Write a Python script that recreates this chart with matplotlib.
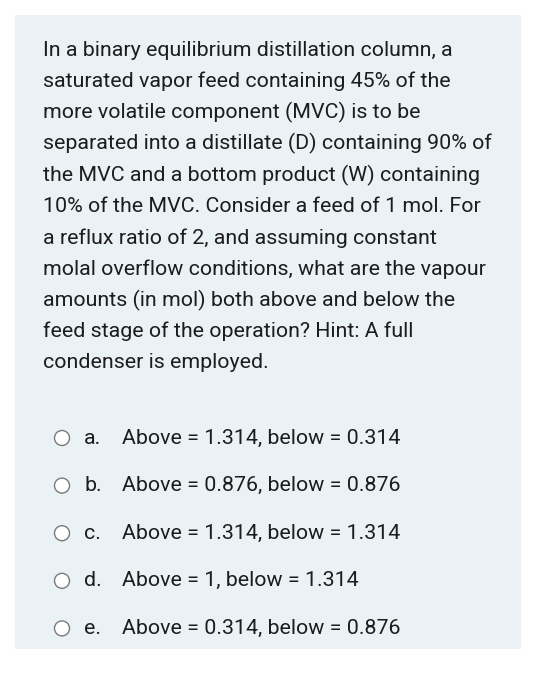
import matplotlib.pyplot as plt
import matplotlib.patches as patches

question_lines = [
    "In a binary equilibrium distillation column, a",
    "saturated vapor feed containing 45% of the",
    "more volatile component (MVC) is to be",
    "separated into a distillate (D) containing 90% of",
    "the MVC and a bottom product (W) containing",
    "10% of the MVC. Consider a feed of 1 mol. For",
    "a reflux ratio of 2, and assuming constant",
    "molal overflow conditions, what are the vapour",
    "amounts (in mol) both above and below the",
    "feed stage of the operation? Hint: A full",
    "condenser is employed.",
]
option_letters = ["a.", "b.", "c.", "d.", "e."]
option_texts = [
    "Above = 1.314, below = 0.314",
    "Above = 0.876, below = 0.876",
    "Above = 1.314, below = 1.314",
    "Above = 1, below = 1.314",
    "Above = 0.314, below = 0.876",
]

W, H = 535, 700
fig = plt.figure(figsize=(W / 100, H / 100), dpi=100)
ax = fig.add_axes([0, 0, 1, 1])
ax.set_xlim(0, W)
ax.set_ylim(H, 0)
ax.axis('off')

ax.add_patch(patches.Rectangle((15, 15), 506, 634, facecolor='#eaf2f5', edgecolor='none'))

font = 'Roboto'
fs = 15.4
for i, line in enumerate(question_lines):
    ax.text(43, 50 + i * 31.3, line, fontsize=fs, family=font, color='#1d1d1d', va='center')

for i, (letter, text) in enumerate(zip(option_letters, option_texts)):
    y = 438 + i * 47.6
    ax.add_patch(patches.Circle((62, y), 7.5, facecolor='white', edgecolor='#7a7a7a', linewidth=1))
    ax.text(84, y, letter, fontsize=fs, family=font, color='#1d1d1d', va='center')
    ax.text(122, y, text, fontsize=fs, family=font, color='#1d1d1d', va='center')

plt.savefig('out.png', dpi=100)
plt.close()
